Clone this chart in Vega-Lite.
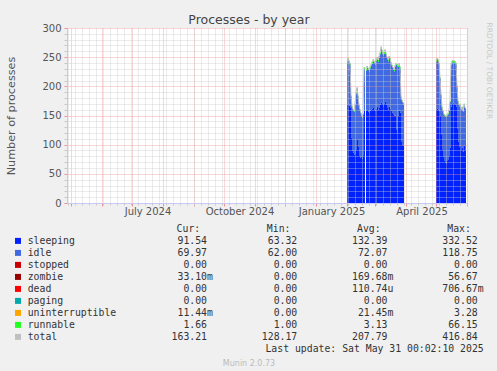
{
  "$schema": "https://vega.github.io/schema/vega-lite/v6.json",
  "background": "#f0f0f0",
  "padding": {"left": 5, "top": 13, "right": 6, "bottom": 7},
  "config": {"font": "DejaVu Sans", "view": {"stroke": null}},
  "bounds": "flush",
  "spacing": 18.2,
  "resolve": {"scale": {"color": "independent"}},
  "datasets": {
    "procs": [
      {"d": "2025-02-01", "sleeping": 168, "idle": 73, "runnable": 3, "total": 244},
      {"d": "2025-02-02", "sleeping": 170, "idle": 74, "runnable": 4, "total": 248},
      {"d": "2025-02-03", "sleeping": 167, "idle": 74, "runnable": 3, "total": 244},
      {"d": "2025-02-04", "sleeping": 164, "idle": 72, "runnable": 3, "total": 239},
      {"d": "2025-02-05", "sleeping": 112, "idle": 70, "runnable": 2, "total": 184},
      {"d": "2025-02-06", "sleeping": 90, "idle": 74, "runnable": 2, "total": 166},
      {"d": "2025-02-07", "sleeping": 86, "idle": 72, "runnable": 2, "total": 160},
      {"d": "2025-02-08", "sleeping": 83, "idle": 74, "runnable": 2, "total": 159},
      {"d": "2025-02-09", "sleeping": 84, "idle": 84, "runnable": 2, "total": 170},
      {"d": "2025-02-10", "sleeping": 92, "idle": 96, "runnable": 2, "total": 190},
      {"d": "2025-02-11", "sleeping": 108, "idle": 88, "runnable": 2, "total": 198},
      {"d": "2025-02-12", "sleeping": 96, "idle": 86, "runnable": 2, "total": 184},
      {"d": "2025-02-13", "sleeping": 82, "idle": 84, "runnable": 2, "total": 168},
      {"d": "2025-02-14", "sleeping": 78, "idle": 80, "runnable": 2, "total": 160},
      {"d": "2025-02-15", "sleeping": 80, "idle": 72, "runnable": 2, "total": 154},
      {"d": "2025-02-16", "sleeping": 76, "idle": 70, "runnable": 2, "total": 148},
      {"d": "2025-02-17", "sleeping": 82, "idle": 70, "runnable": 2, "total": 154},
      {"d": "2025-02-18", "sleeping": 158, "idle": 72, "runnable": 3, "total": 233},
      {"d": "2025-02-19", "sleeping": 0, "idle": 0, "runnable": 0, "total": null},
      {"d": "2025-02-20", "sleeping": 158, "idle": 69, "runnable": 3, "total": 230},
      {"d": "2025-02-21", "sleeping": 160, "idle": 72, "runnable": 3, "total": 235},
      {"d": "2025-02-22", "sleeping": 157, "idle": 71, "runnable": 3, "total": 231},
      {"d": "2025-02-23", "sleeping": 155, "idle": 70, "runnable": 3, "total": 228},
      {"d": "2025-02-24", "sleeping": 158, "idle": 73, "runnable": 3, "total": 234},
      {"d": "2025-02-25", "sleeping": 160, "idle": 75, "runnable": 3, "total": 238},
      {"d": "2025-02-26", "sleeping": 162, "idle": 77, "runnable": 3, "total": 242},
      {"d": "2025-02-27", "sleeping": 164, "idle": 79, "runnable": 3, "total": 246},
      {"d": "2025-02-28", "sleeping": 160, "idle": 80, "runnable": 3, "total": 243},
      {"d": "2025-03-01", "sleeping": 158, "idle": 79, "runnable": 3, "total": 240},
      {"d": "2025-03-02", "sleeping": 162, "idle": 82, "runnable": 3, "total": 247},
      {"d": "2025-03-03", "sleeping": 165, "idle": 82, "runnable": 3, "total": 250},
      {"d": "2025-03-04", "sleeping": 160, "idle": 82, "runnable": 3, "total": 245},
      {"d": "2025-03-05", "sleeping": 163, "idle": 86, "runnable": 3, "total": 252},
      {"d": "2025-03-06", "sleeping": 168, "idle": 87, "runnable": 3, "total": 258},
      {"d": "2025-03-07", "sleeping": 172, "idle": 93, "runnable": 3, "total": 268},
      {"d": "2025-03-08", "sleeping": 170, "idle": 89, "runnable": 3, "total": 262},
      {"d": "2025-03-09", "sleeping": 166, "idle": 86, "runnable": 3, "total": 255},
      {"d": "2025-03-10", "sleeping": 170, "idle": 86, "runnable": 3, "total": 259},
      {"d": "2025-03-11", "sleeping": 174, "idle": 86, "runnable": 3, "total": 263},
      {"d": "2025-03-12", "sleeping": 168, "idle": 85, "runnable": 3, "total": 256},
      {"d": "2025-03-13", "sleeping": 164, "idle": 83, "runnable": 3, "total": 250},
      {"d": "2025-03-14", "sleeping": 160, "idle": 83, "runnable": 3, "total": 246},
      {"d": "2025-03-15", "sleeping": 165, "idle": 84, "runnable": 3, "total": 252},
      {"d": "2025-03-16", "sleeping": 162, "idle": 83, "runnable": 3, "total": 248},
      {"d": "2025-03-17", "sleeping": 158, "idle": 80, "runnable": 3, "total": 241},
      {"d": "2025-03-18", "sleeping": 155, "idle": 78, "runnable": 3, "total": 236},
      {"d": "2025-03-19", "sleeping": 152, "idle": 77, "runnable": 3, "total": 232},
      {"d": "2025-03-20", "sleeping": 150, "idle": 76, "runnable": 3, "total": 229},
      {"d": "2025-03-21", "sleeping": 150, "idle": 83, "runnable": 3, "total": 236},
      {"d": "2025-03-22", "sleeping": 125, "idle": 112, "runnable": 3, "total": 240},
      {"d": "2025-03-23", "sleeping": 120, "idle": 115, "runnable": 3, "total": 238},
      {"d": "2025-03-24", "sleeping": 150, "idle": 83, "runnable": 3, "total": 236},
      {"d": "2025-03-25", "sleeping": 158, "idle": 79, "runnable": 3, "total": 240},
      {"d": "2025-03-26", "sleeping": 155, "idle": 75, "runnable": 3, "total": 233},
      {"d": "2025-03-27", "sleeping": 106, "idle": 73, "runnable": 3, "total": 182},
      {"d": "2025-03-28", "sleeping": 100, "idle": 73, "runnable": 3, "total": 176},
      {"d": "2025-03-29", "sleeping": 98, "idle": 71, "runnable": 3, "total": 172},
      {"d": "2025-03-30", "sleeping": 0, "idle": 0, "runnable": 0, "total": null},
      {"d": "2025-05-01", "sleeping": 160, "idle": 82, "runnable": 3, "total": 245},
      {"d": "2025-05-02", "sleeping": 162, "idle": 83, "runnable": 3, "total": 248},
      {"d": "2025-05-03", "sleeping": 160, "idle": 83, "runnable": 3, "total": 246},
      {"d": "2025-05-04", "sleeping": 158, "idle": 79, "runnable": 3, "total": 240},
      {"d": "2025-05-05", "sleeping": 150, "idle": 63, "runnable": 2, "total": 215},
      {"d": "2025-05-06", "sleeping": 118, "idle": 65, "runnable": 2, "total": 185},
      {"d": "2025-05-07", "sleeping": 92, "idle": 70, "runnable": 2, "total": 164},
      {"d": "2025-05-08", "sleeping": 80, "idle": 76, "runnable": 2, "total": 158},
      {"d": "2025-05-09", "sleeping": 72, "idle": 78, "runnable": 2, "total": 152},
      {"d": "2025-05-10", "sleeping": 70, "idle": 78, "runnable": 2, "total": 150},
      {"d": "2025-05-11", "sleeping": 68, "idle": 80, "runnable": 2, "total": 150},
      {"d": "2025-05-12", "sleeping": 72, "idle": 78, "runnable": 2, "total": 152},
      {"d": "2025-05-13", "sleeping": 75, "idle": 77, "runnable": 2, "total": 154},
      {"d": "2025-05-14", "sleeping": 82, "idle": 76, "runnable": 2, "total": 160},
      {"d": "2025-05-15", "sleeping": 95, "idle": 78, "runnable": 2, "total": 175},
      {"d": "2025-05-16", "sleeping": 165, "idle": 72, "runnable": 3, "total": 240},
      {"d": "2025-05-17", "sleeping": 170, "idle": 71, "runnable": 3, "total": 244},
      {"d": "2025-05-18", "sleeping": 172, "idle": 70, "runnable": 3, "total": 245},
      {"d": "2025-05-19", "sleeping": 170, "idle": 71, "runnable": 3, "total": 244},
      {"d": "2025-05-20", "sleeping": 168, "idle": 72, "runnable": 3, "total": 243},
      {"d": "2025-05-21", "sleeping": 165, "idle": 72, "runnable": 3, "total": 240},
      {"d": "2025-05-22", "sleeping": 128, "idle": 70, "runnable": 2, "total": 200},
      {"d": "2025-05-23", "sleeping": 105, "idle": 68, "runnable": 2, "total": 175},
      {"d": "2025-05-24", "sleeping": 96, "idle": 70, "runnable": 2, "total": 168},
      {"d": "2025-05-25", "sleeping": 98, "idle": 70, "runnable": 2, "total": 170},
      {"d": "2025-05-26", "sleeping": 92, "idle": 68, "runnable": 2, "total": 162},
      {"d": "2025-05-27", "sleeping": 95, "idle": 68, "runnable": 2, "total": 165},
      {"d": "2025-05-28", "sleeping": 88, "idle": 68, "runnable": 2, "total": 158},
      {"d": "2025-05-29", "sleeping": 98, "idle": 70, "runnable": 2, "total": 170},
      {"d": "2025-05-30", "sleeping": 91.54, "idle": 69.97, "runnable": 1.66, "total": 163.21},
      {"d": "2025-05-31", "sleeping": 0, "idle": 0, "runnable": 0, "total": null}
    ],
    "series": [
      {"series": "sleeping"}, {"series": "idle"}, {"series": "stopped"}, {"series": "zombie"}, {"series": "dead"},
      {"series": "paging"}, {"series": "uninterruptible"}, {"series": "runnable"}, {"series": "total"}
    ],
    "stats": [
      {"series": "sleeping", "stat": "cur", "num": "91.54", "unit": ""},
      {"series": "sleeping", "stat": "min", "num": "63.32", "unit": ""},
      {"series": "sleeping", "stat": "avg", "num": "132.39", "unit": ""},
      {"series": "sleeping", "stat": "max", "num": "332.52", "unit": ""},
      {"series": "idle", "stat": "cur", "num": "69.97", "unit": ""},
      {"series": "idle", "stat": "min", "num": "62.00", "unit": ""},
      {"series": "idle", "stat": "avg", "num": "72.07", "unit": ""},
      {"series": "idle", "stat": "max", "num": "118.75", "unit": ""},
      {"series": "stopped", "stat": "cur", "num": "0.00", "unit": ""},
      {"series": "stopped", "stat": "min", "num": "0.00", "unit": ""},
      {"series": "stopped", "stat": "avg", "num": "0.00", "unit": ""},
      {"series": "stopped", "stat": "max", "num": "0.00", "unit": ""},
      {"series": "zombie", "stat": "cur", "num": "33.10", "unit": "m"},
      {"series": "zombie", "stat": "min", "num": "0.00", "unit": ""},
      {"series": "zombie", "stat": "avg", "num": "169.68", "unit": "m"},
      {"series": "zombie", "stat": "max", "num": "56.67", "unit": ""},
      {"series": "dead", "stat": "cur", "num": "0.00", "unit": ""},
      {"series": "dead", "stat": "min", "num": "0.00", "unit": ""},
      {"series": "dead", "stat": "avg", "num": "110.74", "unit": "u"},
      {"series": "dead", "stat": "max", "num": "706.67", "unit": "m"},
      {"series": "paging", "stat": "cur", "num": "0.00", "unit": ""},
      {"series": "paging", "stat": "min", "num": "0.00", "unit": ""},
      {"series": "paging", "stat": "avg", "num": "0.00", "unit": ""},
      {"series": "paging", "stat": "max", "num": "0.00", "unit": ""},
      {"series": "uninterruptible", "stat": "cur", "num": "11.44", "unit": "m"},
      {"series": "uninterruptible", "stat": "min", "num": "0.00", "unit": ""},
      {"series": "uninterruptible", "stat": "avg", "num": "21.45", "unit": "m"},
      {"series": "uninterruptible", "stat": "max", "num": "3.28", "unit": ""},
      {"series": "runnable", "stat": "cur", "num": "1.66", "unit": ""},
      {"series": "runnable", "stat": "min", "num": "1.00", "unit": ""},
      {"series": "runnable", "stat": "avg", "num": "3.13", "unit": ""},
      {"series": "runnable", "stat": "max", "num": "66.15", "unit": ""},
      {"series": "total", "stat": "cur", "num": "163.21", "unit": ""},
      {"series": "total", "stat": "min", "num": "128.17", "unit": ""},
      {"series": "total", "stat": "avg", "num": "207.79", "unit": ""},
      {"series": "total", "stat": "max", "num": "416.84", "unit": ""}
    ],
    "heads": [
      {"stat": "cur", "h": "Cur:"}, {"stat": "min", "h": "Min:"}, {"stat": "avg", "h": "Avg:"}, {"stat": "max", "h": "Max:"}
    ],
    "update": [{"t": "Last update: Sat May 31 00:02:10 2025"}]
  },
  "vconcat": [
    {
      "width": 400,
      "height": 175,
      "view": {"fill": "white", "stroke": null},
      "title": {"text": "Processes - by year", "fontSize": 12.5, "fontWeight": "normal", "color": "#444444", "anchor": "middle", "frame": "bounds", "offset": -4},
      "data": {"name": "procs"},
      "layer": [
        {
          "transform": [
            {"fold": ["sleeping", "idle", "runnable"], "as": ["series", "value"]},
            {"window": [{"op": "row_number", "as": "k"}], "groupby": ["d"]}
          ],
          "mark": {"type": "area", "interpolate": "step-after"},
          "encoding": {
            "x": {
              "field": "d", "type": "temporal",
              "scale": {"type": "utc", "domain": [{"year": 2024, "month": 4, "date": 27, "utc": true}, {"year": 2025, "month": 6, "date": 1, "utc": true}]},
              "axis": {
                "orient": "bottom",
                "values": [
                  {"year": 2024, "month": 5, "date": 1, "utc": true},
                  {"year": 2024, "month": 6, "date": 1, "utc": true},
                  {"year": 2024, "month": 7, "date": 1, "utc": true},
                  {"year": 2024, "month": 8, "date": 1, "utc": true},
                  {"year": 2024, "month": 9, "date": 1, "utc": true},
                  {"year": 2024, "month": 10, "date": 1, "utc": true},
                  {"year": 2024, "month": 11, "date": 1, "utc": true},
                  {"year": 2024, "month": 12, "date": 1, "utc": true},
                  {"year": 2025, "month": 1, "date": 1, "utc": true},
                  {"year": 2025, "month": 2, "date": 1, "utc": true},
                  {"year": 2025, "month": 3, "date": 1, "utc": true},
                  {"year": 2025, "month": 4, "date": 1, "utc": true},
                  {"year": 2025, "month": 5, "date": 1, "utc": true},
                  {"year": 2025, "month": 6, "date": 1, "utc": true}
                ],
                "grid": true, "gridColor": "#ee9090", "gridDash": [1, 1], "gridOpacity": 0.75,
                "ticks": true, "tickColor": "#ee9090", "tickSize": 3,
                "domain": true, "domainColor": "#c8c8f8",
                "labelExpr": "indexof([0,3,6,9], utcmonth(datum.value)) >= 0 ? utcFormat(datum.value, '%B %Y') : ''",
                "labelOffset": 15.5, "labelPadding": 0.5, "labelFontSize": 10, "labelColor": "#555555",
                "labelOverlap": false, "labelFlush": false, "labelBound": false,
                "title": null, "zindex": 1
              }
            },
            "y": {
              "field": "value", "type": "quantitative", "stack": "zero",
              "scale": {"domain": [0, 300], "nice": false},
              "axis": {
                "values": [0, 10, 20, 30, 40, 50, 60, 70, 80, 90, 100, 110, 120, 130, 140, 150, 160, 170, 180, 190, 200, 210, 220, 230, 240, 250, 260, 270, 280, 290, 300],
                "grid": true,
                "gridColor": {"condition": {"test": "datum.value % 50 === 0", "value": "#ee9090"}, "value": "#c8c8c8"},
                "gridDash": [1, 1], "gridOpacity": 0.75,
                "tickColor": {"condition": {"test": "datum.value % 50 === 0", "value": "#ee9090"}, "value": "#c8c8c8"},
                "tickSize": 3,
                "domainColor": "#c8c8f8",
                "labelExpr": "datum.value % 50 === 0 ? datum.label : ''",
                "labelPadding": 3, "labelFontSize": 10, "labelColor": "#555555", "labelOverlap": false,
                "title": "Number of processes", "titleFontSize": 11.2, "titleFontWeight": "normal", "titleColor": "#555555", "titlePadding": 25,
                "zindex": 1
              }
            },
            "color": {"field": "series", "type": "nominal", "scale": {"domain": ["sleeping", "idle", "runnable"], "range": ["#0022ff", "#4169e1", "#22ff22"]}, "legend": null},
            "order": {"field": "k", "type": "quantitative"}
          }
        },
        {
          "mark": {"type": "line", "color": "#c0c0c0", "strokeWidth": 1, "invalid": "break-paths-show-domains"},
          "encoding": {
            "x": {
              "field": "d", "type": "temporal",
              "axis": {
                "orient": "bottom", "tickCount": {"interval": "week", "step": 1},
                "grid": true, "gridColor": "#c8c8c8", "gridDash": [1, 1], "gridOpacity": 0.75,
                "ticks": true, "tickSize": 2, "tickColor": "#c8c8c8",
                "labels": false, "domain": false, "title": null, "zindex": 1
              }
            },
            "y": {
              "field": "total", "type": "quantitative",
              "scale": {"domain": [0, 300], "nice": false},
              "axis": {
                "orient": "right", "title": "RRDTOOL / TOBI OETIKER", "titleAngle": 90, "titleFontSize": 7.5,
                "titleColor": "#c8c8c8", "titleFontWeight": "normal",
                "titleX": 17, "titleY": -6, "titleAlign": "left", "titleBaseline": "bottom",
                "labels": false, "ticks": false, "domain": false, "grid": false
              }
            }
          }
        }
      ],
      "resolve": {"axis": {"x": "independent", "y": "independent"}}
    },
    {
      "width": 364,
      "height": 130,
      "title": {"text": "Munin 2.0.73", "orient": "bottom", "fontSize": 8, "fontWeight": "normal", "color": "#bbbbbb", "anchor": "middle", "offset": 6.5},
      "layer": [
        {
          "data": {"name": "series"},
          "mark": {"type": "point", "shape": "square", "filled": true, "size": 36, "opacity": 1},
          "encoding": {
            "x": {"datum": "swatch", "type": "nominal", "scale": {"type": "point", "domain": ["swatch", "name"], "range": [-49, -39.3], "padding": 0}, "axis": null},
            "y": {"field": "series", "type": "nominal", "scale": {"type": "point", "domain": ["header", "sleeping", "idle", "stopped", "zombie", "dead", "paging", "uninterruptible", "runnable", "total", "lastupdate"], "range": [7.7, 127.7], "padding": 0}, "axis": null},
            "color": {"field": "series", "type": "nominal", "scale": {"domain": ["sleeping", "idle", "stopped", "zombie", "dead", "paging", "uninterruptible", "runnable", "total"], "range": ["#0022ff", "#4169e1", "#cc0000", "#990000", "#ff0000", "#00aaaa", "#ffa500", "#22ff22", "#c0c0c0"]}, "legend": null}
          }
        },
        {
          "data": {"name": "series"},
          "mark": {"type": "text", "align": "left", "baseline": "middle", "font": "DejaVu Sans Mono", "fontSize": 9.8, "color": "#333333"},
          "encoding": {
            "x": {"datum": "name", "type": "nominal", "scale": {"type": "point", "domain": ["swatch", "name"], "range": [-49, -39.3], "padding": 0}, "axis": null},
            "y": {"field": "series", "type": "nominal", "scale": {"type": "point", "domain": ["header", "sleeping", "idle", "stopped", "zombie", "dead", "paging", "uninterruptible", "runnable", "total", "lastupdate"], "range": [7.7, 127.7], "padding": 0}, "axis": null},
            "text": {"field": "series"}
          }
        },
        {
          "data": {"name": "stats"},
          "mark": {"type": "text", "align": "right", "baseline": "middle", "font": "DejaVu Sans Mono", "fontSize": 9.8, "color": "#333333"},
          "encoding": {
            "x": {"field": "stat", "type": "nominal", "scale": {"type": "point", "domain": ["cur", "min", "avg", "max"], "range": [140, 410.7], "padding": 0}, "axis": null},
            "y": {"field": "series", "type": "nominal", "scale": {"type": "point", "domain": ["header", "sleeping", "idle", "stopped", "zombie", "dead", "paging", "uninterruptible", "runnable", "total", "lastupdate"], "range": [7.7, 127.7], "padding": 0}, "axis": null},
            "text": {"field": "num"}
          }
        },
        {
          "data": {"name": "stats"},
          "mark": {"type": "text", "align": "left", "baseline": "middle", "font": "DejaVu Sans Mono", "fontSize": 9.8, "color": "#333333"},
          "encoding": {
            "x": {"field": "stat", "type": "nominal", "scale": {"type": "point", "domain": ["cur", "min", "avg", "max"], "range": [140, 410.7], "padding": 0}, "axis": null},
            "y": {"field": "series", "type": "nominal", "scale": {"type": "point", "domain": ["header", "sleeping", "idle", "stopped", "zombie", "dead", "paging", "uninterruptible", "runnable", "total", "lastupdate"], "range": [7.7, 127.7], "padding": 0}, "axis": null},
            "text": {"field": "unit"}
          }
        },
        {
          "data": {"name": "heads"},
          "mark": {"type": "text", "align": "right", "baseline": "middle", "font": "DejaVu Sans Mono", "fontSize": 9.8, "color": "#333333", "dx": -6.8},
          "encoding": {
            "x": {"field": "stat", "type": "nominal", "scale": {"type": "point", "domain": ["cur", "min", "avg", "max"], "range": [140, 410.7], "padding": 0}, "axis": null},
            "y": {"datum": "header", "type": "nominal", "scale": {"type": "point", "domain": ["header", "sleeping", "idle", "stopped", "zombie", "dead", "paging", "uninterruptible", "runnable", "total", "lastupdate"], "range": [7.7, 127.7], "padding": 0}, "axis": null},
            "text": {"field": "h"}
          }
        },
        {
          "data": {"name": "update"},
          "mark": {"type": "text", "align": "right", "baseline": "middle", "font": "DejaVu Sans Mono", "fontSize": 9.8, "color": "#333333", "dx": 6},
          "encoding": {
            "x": {"datum": "max", "type": "nominal", "scale": {"type": "point", "domain": ["cur", "min", "avg", "max"], "range": [140, 410.7], "padding": 0}, "axis": null},
            "y": {"datum": "lastupdate", "type": "nominal", "scale": {"type": "point", "domain": ["header", "sleeping", "idle", "stopped", "zombie", "dead", "paging", "uninterruptible", "runnable", "total", "lastupdate"], "range": [7.7, 127.7], "padding": 0}, "axis": null},
            "text": {"field": "t"}
          }
        }
      ],
      "resolve": {"scale": {"x": "independent"}}
    }
  ]
}
